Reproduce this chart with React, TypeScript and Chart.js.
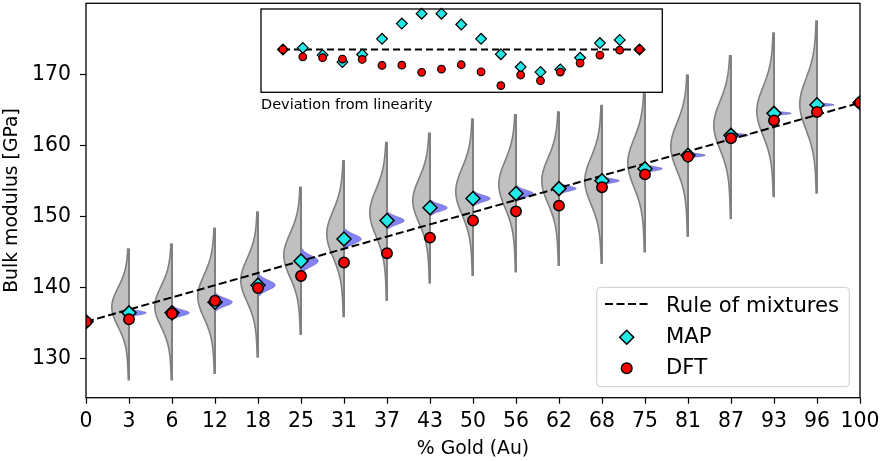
import React, { useEffect, useRef } from "react";
import { Chart, registerables } from "chart.js";

Chart.register(...registerables);

const FONT = '"DejaVu Sans", sans-serif';

// ---- data ----
const categories = ["0", "3", "6", "12", "18", "25", "31", "37", "43", "50", "56", "62", "68", "75", "81", "87", "93", "96", "100"];
const yTicks = [130, 140, 150, 160, 170];

const mapValues = [135.15, 136.4, 136.4, 137.9, 140.3, 143.7, 146.8, 149.4, 151.2, 152.5, 153.2, 153.9, 155.0, 156.7, 158.6, 161.4, 164.5, 165.7, 166.0];
const dftValues = [135.15, 135.5, 136.3, 138.1, 139.9, 141.6, 143.5, 144.8, 147.0, 149.4, 150.7, 151.5, 154.1, 155.9, 158.4, 161.0, 163.5, 164.7, 166.0];

const ruleX = [0, 18];
const ruleY = [135.15, 166.0];

// gray violins (model distribution): lower end, upper end, mode
const grayLo = [null, 127.0, 127.0, 127.9, 130.2, 133.4, 135.9, 138.2, 140.6, 141.7, 142.2, 143.1, 143.4, 145.0, 147.2, 149.7, 152.8, 153.3, null];
const grayHi = [null, 145.4, 146.1, 148.3, 150.6, 154.1, 157.8, 160.4, 161.7, 163.7, 164.3, 164.7, 165.6, 168.0, 169.9, 172.6, 175.8, 177.5, null];
const grayMode = [null, 137.2, 137.3, 138.7, 141.0, 144.5, 147.5, 150.5, 152.2, 153.5, 154.5, 155.0, 155.0, 157.5, 159.8, 162.8, 164.8, 165.8, null];

// blue violins (MAP posterior): half vertical extent around MAP value
const blueHalf = [null, 0.6, 0.9, 1.2, 1.5, 1.65, 1.4, 1.17, 1.05, 1.0, 1.05, 0.75, 0.6, 0.6, 0.45, 0.45, 0.35, 0.35, null];

// inset: deviation from linearity
const insetMapDev = [0, 0.12, -0.42, -0.95, -0.38, 0.8, 1.95, 2.7, 2.7, 1.88, 0.8, -0.35, -1.32, -1.7, -1.5, -0.62, 0.48, 0.72, 0];
const insetDftDev = [0, -0.55, -0.62, -0.72, -0.75, -1.2, -1.18, -1.72, -1.48, -1.15, -1.68, -2.72, -1.92, -2.35, -1.7, -1.02, -0.42, -0.05, 0];

const legendLabels = ["Rule of mixtures", "MAP", "DFT"];

const CYAN = "#22e8e8";
const RED = "#ff0000";

function grayDensity(v: number, mode: number, s: number) {
  const d = v - mode;
  return 0.85 * Math.exp(-0.5 * (d / s) ** 2) + 0.15 * Math.exp(-0.5 * (d / (2.4 * s)) ** 2);
}

const violinPlugin = {
  id: "violins",
  beforeDatasetsDraw(chart: any) {
    const { ctx, chartArea: a, scales } = chart;
    const xs = scales.x;
    const ys = scales.y;
    ctx.save();
    ctx.beginPath();
    ctx.rect(a.left, a.top, a.right - a.left, a.bottom - a.top);
    ctx.clip();
    const halfW = xs.getPixelForValue(0.4) - xs.getPixelForValue(0);
    const N = 140;
    for (let i = 0; i < categories.length; i++) {
      const lo = grayLo[i], hi = grayHi[i], mode = grayMode[i];
      if (lo == null || hi == null || mode == null) continue;
      const cx = xs.getPixelForValue(i);
      const s = (hi - lo) / 6.9;
      ctx.beginPath();
      ctx.moveTo(cx, ys.getPixelForValue(lo));
      for (let k = 0; k <= N; k++) {
        const v = lo + ((hi - lo) * k) / N;
        ctx.lineTo(cx - halfW * grayDensity(v, mode, s), ys.getPixelForValue(v));
      }
      ctx.lineTo(cx, ys.getPixelForValue(hi));
      ctx.closePath();
      ctx.fillStyle = "#c0c0c0";
      ctx.fill();
      ctx.lineWidth = 1.6;
      ctx.strokeStyle = "#808080";
      ctx.setLineDash([]);
      ctx.stroke();
      ctx.beginPath();
      ctx.moveTo(cx, ys.getPixelForValue(lo));
      ctx.lineTo(cx, ys.getPixelForValue(hi));
      ctx.lineWidth = 2;
      ctx.strokeStyle = "#808080";
      ctx.stroke();
    }
    for (let i = 0; i < categories.length; i++) {
      const h = blueHalf[i];
      if (h == null) continue;
      const cx = xs.getPixelForValue(i);
      const c = mapValues[i];
      const sd = h / 2.2;
      ctx.beginPath();
      ctx.moveTo(cx, ys.getPixelForValue(c - h));
      for (let k = 0; k <= N; k++) {
        const v = c - h + (2 * h * k) / N;
        const dens = Math.exp(-0.5 * ((v - c) / sd) ** 2);
        ctx.lineTo(cx + halfW * dens, ys.getPixelForValue(v));
      }
      ctx.lineTo(cx, ys.getPixelForValue(c + h));
      ctx.closePath();
      ctx.fillStyle = "#8282fa";
      ctx.fill();
      ctx.lineWidth = 1;
      ctx.strokeStyle = "rgba(115,115,175,0.9)";
      ctx.stroke();
    }
    ctx.restore();
    // clip all datasets to the plot area
    ctx.save();
    ctx.beginPath();
    ctx.rect(a.left, a.top, a.right - a.left, a.bottom - a.top);
    ctx.clip();
  },
  afterDatasetsDraw(chart: any) {
    const { ctx, chartArea: a } = chart;
    ctx.restore();
    ctx.save();
    ctx.lineWidth = 1.3;
    ctx.strokeStyle = "#000";
    ctx.setLineDash([]);
    ctx.strokeRect(a.left, a.top, a.right - a.left, a.bottom - a.top);
    ctx.restore();
  },
};

function diamond(ctx: CanvasRenderingContext2D, x: number, y: number, r: number) {
  ctx.beginPath();
  ctx.moveTo(x - r, y);
  ctx.lineTo(x, y - r);
  ctx.lineTo(x + r, y);
  ctx.lineTo(x, y + r);
  ctx.closePath();
}

const legendPlugin = {
  id: "boxLegend",
  afterDraw(chart: any) {
    const { ctx, chartArea: a } = chart;
    const bw = 252.6, bh = 99.4;
    const bx = a.right - 10.7 - bw;
    const by = a.bottom - 11 - bh;
    ctx.save();
    ctx.beginPath();
    if ((ctx as any).roundRect) (ctx as any).roundRect(bx, by, bw, bh, 4);
    else ctx.rect(bx, by, bw, bh);
    ctx.fillStyle = "rgba(255,255,255,0.8)";
    ctx.fill();
    ctx.lineWidth = 1;
    ctx.strokeStyle = "#cccccc";
    ctx.stroke();
    ctx.beginPath();
    ctx.setLineDash([8, 3.5]);
    ctx.moveTo(bx + 8.3, by + 16.7);
    ctx.lineTo(bx + 51.3, by + 16.7);
    ctx.lineWidth = 2;
    ctx.strokeStyle = "#000";
    ctx.stroke();
    ctx.setLineDash([]);
    diamond(ctx, bx + 30, by + 50, 7);
    ctx.fillStyle = CYAN;
    ctx.fill();
    ctx.lineWidth = 1.5;
    ctx.strokeStyle = "#000";
    ctx.stroke();
    ctx.beginPath();
    ctx.arc(bx + 30, by + 81, 5.3, 0, Math.PI * 2);
    ctx.fillStyle = RED;
    ctx.fill();
    ctx.stroke();
    ctx.fillStyle = "#000";
    ctx.font = `21.2px ${FONT}`;
    ctx.textBaseline = "alphabetic";
    ctx.textAlign = "left";
    const labels = chart.data.datasets.map((d: any) => d.label);
    ctx.fillText(labels[0], bx + 69.3, by + 24.4);
    ctx.fillText(labels[1], bx + 69.3, by + 55.8);
    ctx.fillText(labels[2], bx + 69.3, by + 87);
    ctx.restore();
  },
};

const insetFrame = {
  id: "insetFrame",
  beforeDraw(chart: any) {
    const { ctx, chartArea: a } = chart;
    ctx.save();
    ctx.fillStyle = "#fff";
    ctx.fillRect(a.left, a.top, a.right - a.left, a.bottom - a.top);
    ctx.restore();
  },
  afterDraw(chart: any) {
    const { ctx, chartArea: a } = chart;
    ctx.save();
    ctx.lineWidth = 1.3;
    ctx.strokeStyle = "#000";
    ctx.strokeRect(a.left, a.top, a.right - a.left, a.bottom - a.top);
    ctx.restore();
  },
};

export default function App() {
  const mainRef = useRef<HTMLCanvasElement>(null);
  const insetRef = useRef<HTMLCanvasElement>(null);

  useEffect(() => {
    const tickFont = { family: FONT, size: 20.4 };
    const titleFont = { family: FONT, size: 18.8 };
    const main = new Chart(mainRef.current as HTMLCanvasElement, {
      type: "scatter",
      data: {
        datasets: [
          {
            type: "line",
            label: legendLabels[0],
            data: ruleX.map((x, i) => ({ x, y: ruleY[i] })),
            borderColor: "#000",
            borderWidth: 2,
            borderDash: [8, 3.5],
            pointRadius: 0,
            showLine: true,
            fill: false,
            order: 3,
          } as any,
          {
            label: legendLabels[1],
            data: mapValues.map((y, i) => ({ x: i, y })),
            pointStyle: "rectRot",
            pointRadius: 7,
            backgroundColor: CYAN,
            borderColor: "#000",
            borderWidth: 1.5,
            order: 2,
          } as any,
          {
            label: legendLabels[2],
            data: dftValues.map((y, i) => ({ x: i, y })),
            pointStyle: "circle",
            pointRadius: 5.2,
            backgroundColor: RED,
            borderColor: "#000",
            borderWidth: 1.5,
            order: 1,
          } as any,
        ],
      },
      options: {
        animation: false,
        responsive: false,
        events: [],
        layout: { autoPadding: false, padding: { left: 0, top: 3.3, right: 22, bottom: 0 } },
        plugins: { legend: { display: false }, tooltip: { enabled: false } },
        scales: {
          x: {
            type: "linear",
            min: 0,
            max: categories.length - 1,
            afterBuildTicks: (s: any) => {
              s.ticks = categories.map((_, i) => ({ value: i }));
            },
            afterFit: (s: any) => {
              s.height = 63.3;
              s.paddingLeft = 0;
              s.paddingRight = 0;
            },
            ticks: {
              callback: (v: any) => categories[v],
              font: tickFont,
              color: "#000",
              padding: 6,
              maxRotation: 0,
              autoSkip: false,
            },
            grid: { drawOnChartArea: false, drawTicks: true, tickLength: 6, tickColor: "#000", tickWidth: 1.2 },
            border: { display: false },
            title: { display: true, text: "% Gold (Au)", font: titleFont, color: "#000", padding: { top: 0, bottom: 1 } },
          },
          y: {
            type: "linear",
            min: 124.45,
            max: 180,
            afterBuildTicks: (s: any) => {
              s.ticks = yTicks.map((v) => ({ value: v }));
            },
            afterFit: (s: any) => {
              s.width = 86;
              s.paddingTop = 0;
              s.paddingBottom = 0;
            },
            ticks: { font: tickFont, color: "#000", padding: 9 },
            grid: { drawOnChartArea: false, drawTicks: true, tickLength: 6, tickColor: "#000", tickWidth: 1.2 },
            border: { display: false },
            title: { display: true, text: "Bulk modulus [GPa]", font: titleFont, color: "#000", padding: { top: 1, bottom: 0 } },
          },
        },
      } as any,
      plugins: [violinPlugin, legendPlugin],
    });

    const inset = new Chart(insetRef.current as HTMLCanvasElement, {
      type: "scatter",
      data: {
        datasets: [
          {
            type: "line",
            label: "linear",
            data: ruleX.map((x) => ({ x, y: 0 })),
            borderColor: "#000",
            borderWidth: 2,
            borderDash: [7, 4],
            pointRadius: 0,
            showLine: true,
            order: 3,
            clip: false,
          } as any,
          {
            label: "MAP",
            data: insetMapDev.map((y, i) => ({ x: i, y })),
            pointStyle: "rectRot",
            pointRadius: 5.4,
            backgroundColor: CYAN,
            borderColor: "#000",
            borderWidth: 1.2,
            order: 2,
            clip: false,
          } as any,
          {
            label: "DFT",
            data: insetDftDev.map((y, i) => ({ x: i, y })),
            pointStyle: "circle",
            pointRadius: 3.8,
            backgroundColor: RED,
            borderColor: "#000",
            borderWidth: 1.2,
            order: 1,
            clip: false,
          } as any,
        ],
      },
      options: {
        animation: false,
        responsive: false,
        events: [],
        layout: { autoPadding: false, padding: { left: 6, top: 5, right: 7.7, bottom: 6.7 } },
        plugins: { legend: { display: false }, tooltip: { enabled: false } },
        scales: {
          x: { type: "linear", display: false, min: -1.11, max: 19.15 },
          y: { type: "linear", display: false, min: -3.225, max: 3.05 },
        },
      } as any,
      plugins: [insetFrame],
    });

    return () => {
      main.destroy();
      inset.destroy();
    };
  }, []);

  return (
    <div style={{ position: "absolute", left: 0, top: 0, width: 882, height: 461, background: "#fff", overflow: "hidden" }}>
      <canvas ref={mainRef} width={882} height={461} style={{ position: "absolute", left: 0, top: 0 }} />
      <canvas ref={insetRef} width={415} height={95} style={{ position: "absolute", left: 255, top: 4 }} />
      <div
        style={{
          position: "absolute",
          left: 261,
          top: 97,
          fontFamily: FONT,
          fontSize: 14.5,
          lineHeight: 1,
          whiteSpace: "nowrap",
          color: "#000",
        }}
      >
        Deviation from linearity
      </div>
    </div>
  );
}
